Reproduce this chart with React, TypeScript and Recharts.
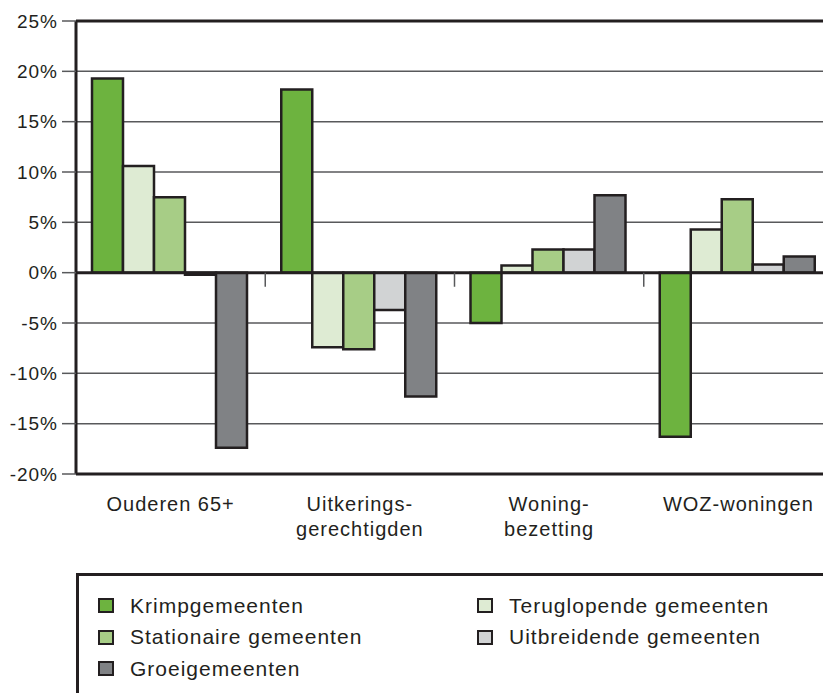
import { Bar, BarChart, CartesianGrid, ReferenceLine, XAxis, YAxis } from "recharts";

const categories = [
  "Ouderen 65+",
  "Uitkerings-\ngerechtigden",
  "Woning-\nbezetting",
  "WOZ-woningen",
];
const krimp = [19.3, 18.2, -5.0, -16.3];
const teruglopend = [10.6, -7.4, 0.7, 4.3];
const stationair = [7.5, -7.6, 2.3, 7.3];
const uitbreidend = [-0.2, -3.7, 2.3, 0.8];
const groei = [-17.4, -12.3, 7.7, 1.6];
const yTicks = [-20, -15, -10, -5, 0, 5, 10, 15, 20, 25];

const series = [
  { key: "krimp", name: "Krimpgemeenten", color: "#6db33f", values: krimp },
  { key: "terug", name: "Teruglopende gemeenten", color: "#deebd3", values: teruglopend },
  { key: "stat", name: "Stationaire gemeenten", color: "#a7cd86", values: stationair },
  { key: "uitbr", name: "Uitbreidende gemeenten", color: "#d1d3d4", values: uitbreidend },
  { key: "groei", name: "Groeigemeenten", color: "#808285", values: groei },
];

const data = categories.map((name, i) => {
  const row: Record<string, string | number> = { name };
  series.forEach((s) => {
    row[s.key] = s.values[i];
  });
  return row;
});

const INK = "#231f20";
const FONT = "'Liberation Sans', Arial, sans-serif";

function CategoryTick({ x, y, payload }: any) {
  const lines = String(payload.value).split("\n");
  return (
    <text x={x} y={y} textAnchor="middle" fill={INK} fontSize={20} letterSpacing={1} fontFamily={FONT}>
      {lines.map((l, i) => (
        <tspan key={i} x={x} dy={i === 0 ? 29 : 25}>
          {l}
        </tspan>
      ))}
    </text>
  );
}

export default function App() {
  return (
    <div
      style={{
        position: "fixed",
        left: 0,
        top: 0,
        width: 823,
        height: 693,
        overflow: "hidden",
        background: "#fff",
        fontFamily: FONT,
      }}
    >
      <BarChart
        width={833}
        height={560}
        data={data}
        margin={{ top: 21, right: 0, left: 0, bottom: 0 }}
        barCategoryGap={16}
        barGap={0}
      >
        <CartesianGrid vertical={false} stroke="#58595b" strokeWidth={1.5} />
        <YAxis
          width={76}
          domain={[-20, 25]}
          ticks={yTicks}
          interval={0}
          tickFormatter={(v) => `${v}%`}
          axisLine={{ stroke: INK, strokeWidth: 3 }}
          tickLine={{ stroke: "#58595b", strokeWidth: 1.5 }}
          tickSize={14}
          tickMargin={4}
          tick={{ fontSize: 19, fill: INK, fontFamily: FONT, letterSpacing: 1 }}
        />
        <XAxis
          dataKey="name"
          height={86}
          interval={0}
          tickLine={false}
          axisLine={{ stroke: INK, strokeWidth: 3 }}
          tick={<CategoryTick />}
        />
        <ReferenceLine y={25} stroke={INK} strokeWidth={3} />
        {series.map((s) => (
          <Bar
            key={s.key}
            dataKey={s.key}
            name={s.name}
            fill={s.color}
            stroke={INK}
            strokeWidth={2.5}
            isAnimationActive={false}
          />
        ))}
        <ReferenceLine y={0} stroke={INK} strokeWidth={3} />
        {categories.slice(1).map((c) => (
          <ReferenceLine
            key={c}
            segment={[
              { x: c, y: 0 },
              { x: c, y: -1.4 },
            ]}
            position="start"
            stroke="#58595b"
            strokeWidth={1.5}
          />
        ))}
      </BarChart>
      <div
        style={{
          position: "absolute",
          left: 76,
          top: 573,
          width: 800,
          height: 200,
          borderTop: `3px solid ${INK}`,
          borderLeft: `3px solid ${INK}`,
          boxSizing: "border-box",
          display: "grid",
          gridTemplateColumns: "379px 1fr",
          gridAutoRows: "31.5px",
          padding: "14px 0 0 19px",
          color: INK,
          fontSize: 21,
          letterSpacing: 1,
        }}
      >
        {series.map((s) => (
          <div key={s.key} style={{ display: "flex", alignItems: "center" }}>
            <span
              style={{
                display: "inline-block",
                width: 16,
                height: 15,
                boxSizing: "border-box",
                background: s.color,
                border: `2.5px solid ${INK}`,
                marginRight: 16,
              }}
            />
            <span>{s.name}</span>
          </div>
        ))}
      </div>
    </div>
  );
}
